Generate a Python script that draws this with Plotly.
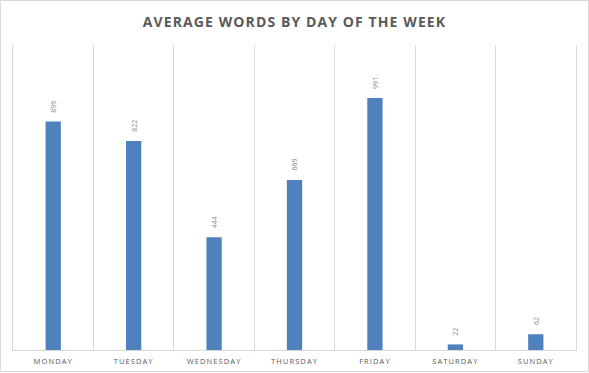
import plotly.graph_objects as go

days = ["MONDAY", "TUESDAY", "WEDNESDAY", "THURSDAY", "FRIDAY", "SATURDAY", "SUNDAY"]
avg_words = [899, 822, 444, 669, 991, 22, 62]
title_text = "AVERAGE WORDS BY DAY OF THE WEEK"

W, H = 589, 373
ml, mr, mt, mb = 13, 13, 45, 23
pw, ph = W - ml - mr, H - mt - mb

fig = go.Figure(go.Bar(
    x=days, y=avg_words,
    marker=dict(color="#4F81BD", line=dict(width=0)),
    hoverinfo="x+y",
))

for d, v in zip(days, avg_words):
    fig.add_annotation(
        x=d, y=v, text=str(v), showarrow=False,
        textangle=-90, xanchor="center", yanchor="bottom", yshift=7,
        font=dict(family="Open Sans", size=7, color="#8C8C8C"),
    )

fig.update_layout(
    autosize=False,
    width=W, height=H,
    margin=dict(l=ml, r=mr, t=mt, b=mb, autoexpand=False),
    paper_bgcolor="white", plot_bgcolor="white",
    bargap=0.81,
    showlegend=False,
    title=dict(
        text="<b>" + title_text + "</b>",
        x=0.5, xanchor="center", y=1 - 22 / H, yanchor="middle",
        font=dict(family="Open Sans", size=14, color="#595959"),
    ),
    xaxis=dict(
        type="category",
        tickson="boundaries",
        showgrid=True, gridcolor="#D9D9D9", gridwidth=1,
        showline=True, linecolor="#D9D9D9", linewidth=1,
        ticks="", ticklabelstandoff=4,
        tickfont=dict(family="Open Sans", size=7.5, color="#595959"),
    ),
    yaxis=dict(
        range=[0, 1200],
        showgrid=False, zeroline=False, showticklabels=False,
        showline=True, mirror=True, linecolor="#D9D9D9", linewidth=1,
        ticks="",
    ),
    shapes=[dict(
        type="rect", xref="paper", yref="paper",
        x0=-(ml - 0.5) / pw, x1=1 + (mr - 0.5) / pw,
        y0=-(mb - 1.5) / ph, y1=1 + (mt - 0.5) / ph,
        line=dict(color="#D9D9D9", width=1), fillcolor="rgba(0,0,0,0)", layer="below",
    )],
)

post = """
document.body.style.margin='0';
document.body.style.overflow='hidden';
document.querySelectorAll('.gtitle').forEach(function(e){e.style.letterSpacing='1.1px';e.style.fontWeight='600';});
document.querySelectorAll('.xtick text').forEach(function(e){e.style.letterSpacing='1.1px';});
"""

fig.write_html("out.html", post_script=post,
               config={"displayModeBar": False, "responsive": False, "staticPlot": True})
